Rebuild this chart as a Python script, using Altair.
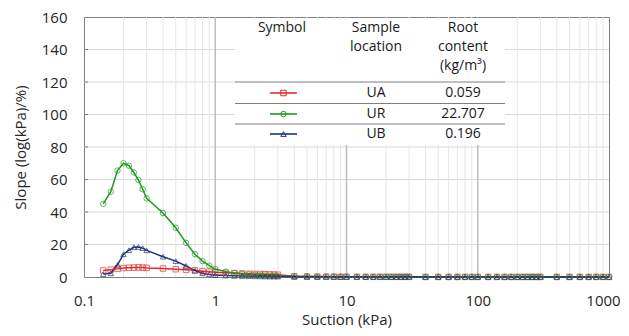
import altair as alt
import pandas as pd

# ---------------- data ----------------
suction = [0.14, 0.16, 0.18, 0.2, 0.22, 0.24, 0.26, 0.28, 0.3,
           0.4, 0.5, 0.6, 0.7, 0.8, 0.9, 1,
           1.2, 1.4, 1.6, 1.8, 2, 2.2, 2.4, 2.6, 2.8, 3,
           4, 5, 6, 7, 8, 9, 10,
           12, 14, 16, 18, 20, 22, 24, 26, 28, 30,
           40, 50, 60, 70, 80, 90, 100,
           120, 140, 160, 180, 200, 220, 240, 260, 280, 300,
           400, 500, 600, 700, 800, 900, 1000]

ua = [4.0, 4.5, 5.0, 5.5, 5.7, 5.8, 5.9, 5.8, 5.6,
      5.2, 4.8, 4.5, 4.1, 3.6, 3.2, 2.9,
      2.6, 2.4, 2.2, 2.0, 1.9, 1.8, 1.7, 1.6, 1.5, 1.4,
      0.4, 0.3, 0.25, 0.2, 0.2, 0.15, 0.15,
      0.1, 0.1, 0.1, 0.1, 0.1, 0.1, 0.1, 0.1, 0.1, 0.1,
      0.05, 0.05, 0.05, 0.05, 0.05, 0.05, 0.05,
      0.05, 0.05, 0.05, 0.05, 0.05, 0.05, 0.05, 0.05, 0.05, 0.05,
      0.05, 0.05, 0.05, 0.05, 0.05, 0.05, 0.05]

ur = [45.0, 52.5, 65.5, 70.0, 68.5, 64.3, 59.7, 54.0, 48.4,
      39.4, 30.3, 21.0, 14.0, 9.8, 7.0, 4.9,
      3.3, 2.4, 1.9, 1.5, 1.3, 1.1, 0.9, 0.8, 0.7, 0.6,
      0.4, 0.3, 0.25, 0.2, 0.2, 0.15, 0.15,
      0.1, 0.1, 0.1, 0.1, 0.1, 0.1, 0.1, 0.1, 0.1, 0.1,
      0.05, 0.05, 0.05, 0.05, 0.05, 0.05, 0.05,
      0.05, 0.05, 0.05, 0.05, 0.05, 0.05, 0.05, 0.05, 0.05, 0.05,
      0.05, 0.05, 0.05, 0.05, 0.05, 0.05, 0.05]

ub = [1.8, 2.3, 7.5, 14.0, 16.5, 18.3, 18.5, 17.8, 16.4,
      12.5, 9.8, 6.8, 3.9, 2.3, 1.6, 1.2,
      0.9, 0.7, 0.6, 0.5, 0.45, 0.4, 0.35, 0.3, 0.3, 0.3,
      0.2, 0.2, 0.15, 0.15, 0.1, 0.1, 0.1,
      0.1, 0.1, 0.1, 0.1, 0.1, 0.1, 0.1, 0.1, 0.1, 0.1,
      0.05, 0.05, 0.05, 0.05, 0.05, 0.05, 0.05,
      0.05, 0.05, 0.05, 0.05, 0.05, 0.05, 0.05, 0.05, 0.05, 0.05,
      0.05, 0.05, 0.05, 0.05, 0.05, 0.05, 0.05]

locations = ["UA", "UR", "UB"]
root_content = ["0.059", "22.707", "0.196"]
colors = ["#e32b2b", "#1c9a1c", "#1c3479"]
shapes = ["square", "circle", "triangle-up"]

y_ticks = [0, 20, 40, 60, 80, 100, 120, 140, 160]
y_grid = [20, 40, 60, 80, 100, 120, 140]
x_labels = [0.1, 1, 10, 100, 1000]
x_major = [1, 10, 100]
x_minor = [0.2, 0.3, 0.4, 0.5, 0.6, 0.7, 0.8, 0.9,
           2, 3, 4, 5, 6, 7, 8, 9,
           20, 30, 40, 50, 60, 70, 80, 90,
           200, 300, 400, 500, 600, 700, 800, 900]

# ---------------- build ----------------
rows = []
for loc, vals in zip(locations, [ua, ur, ub]):
    for s, v in zip(suction, vals):
        rows.append({"suction": s, "slope": v, "loc": loc})
df = pd.DataFrame(rows)

FONT = "Open Sans"
W, H = 525, 260
xscale = alt.Scale(type="log", domain=[0.1, 1000], nice=False)
yscale = alt.Scale(domain=[0, 160], nice=False)
cscale = alt.Scale(domain=locations, range=colors)
sscale = alt.Scale(domain=locations, range=shapes)

xaxis = alt.Axis(values=x_labels, format="~g", grid=False, ticks=False,
                 domain=False, labelPadding=16, labelFlush=False,
                 labelOffset={"condition": {"test": "datum.value >= 1000", "value": -6},
                              "value": 0},
                 title="Suction (kPa)", titlePadding=4)
yaxis = alt.Axis(values=y_ticks, grid=False, ticks=False, domain=False,
                 labelPadding=17, title="Slope (log(kPa)/%)", titlePadding=13)

one = pd.DataFrame({"a": [0]})

hgrid = alt.Chart(pd.DataFrame({"v": y_grid})).mark_rule(
    color="#d9d9d9", strokeWidth=1
).encode(y=alt.Y("v:Q", scale=yscale, axis=yaxis))

vminor = alt.Chart(pd.DataFrame({"v": x_minor})).mark_rule(
    color="#e6e6e6", strokeWidth=1
).encode(x=alt.X("v:Q", scale=xscale, axis=xaxis))

vmajor = alt.Chart(pd.DataFrame({"v": x_major})).mark_rule(
    color="#bdbdbd", strokeWidth=1.5
).encode(x=alt.X("v:Q", scale=xscale, axis=xaxis))

lines = alt.Chart(df).mark_line(strokeWidth=1.5).encode(
    x=alt.X("suction:Q", scale=xscale, axis=xaxis),
    y=alt.Y("slope:Q", scale=yscale, axis=yaxis),
    color=alt.Color("loc:N", scale=cscale, legend=None),
    order=alt.Order("suction:Q"),
)

points = alt.Chart(df).mark_point(filled=False, size=30, strokeWidth=1).encode(
    x=alt.X("suction:Q", scale=xscale, axis=xaxis),
    y=alt.Y("slope:Q", scale=yscale, axis=yaxis),
    color=alt.Color("loc:N", scale=cscale, legend=None),
    shape=alt.Shape("loc:N", scale=sscale, legend=None),
)

yticks_in = alt.Chart(pd.DataFrame({"v": y_grid})).mark_rule(
    color="#7f7f7f", strokeWidth=1
).encode(y=alt.Y("v:Q", scale=yscale, axis=yaxis), x=alt.value(0), x2=alt.value(4))

# legend table (annotation)
TX0, TX1 = 151, 421
table_bg = alt.Chart(one).mark_rect(fill="white").encode(
    x=alt.value(TX0), x2=alt.value(TX1), y=alt.value(1), y2=alt.value(128))

table_layers = [table_bg]
for yy in [65, 86.5, 107]:
    table_layers.append(alt.Chart(one).mark_rule(color="#7f7f7f", strokeWidth=1).encode(
        x=alt.value(TX0), x2=alt.value(TX1), y=alt.value(yy)))

def txt(s, x, y):
    return alt.Chart(one).mark_text(
        font=FONT, fontSize=14, color="#1a1a1a", align="center", baseline="middle"
    ).encode(x=alt.value(x), y=alt.value(y), text=alt.value(s))

text_layers = [
    txt("Symbol", 198, 11),
    txt("Sample", 292, 11), txt("location", 292, 30),
    txt("Root", 379, 11), txt("content", 379, 30), txt("(kg/m³)", 379, 49),
]
row_y = [76, 97, 117]
for i, loc in enumerate(locations):
    text_layers.append(txt(loc, 292, row_y[i]))
    text_layers.append(txt(root_content[i], 379, row_y[i]))
    text_layers.append(alt.Chart(one).mark_rule(color=colors[i], strokeWidth=1.6).encode(
        x=alt.value(186), x2=alt.value(213), y=alt.value(row_y[i])))
    text_layers.append(alt.Chart(one).mark_point(
        filled=False, size=30, strokeWidth=1, color=colors[i], shape=shapes[i], opacity=1
    ).encode(x=alt.value(199.5), y=alt.value(row_y[i])))

chart = alt.layer(
    hgrid, vminor, vmajor, *table_layers, lines, points, yticks_in, *text_layers
).properties(
    width=W, height=H,
    padding={"left": 76, "top": 9, "right": 12, "bottom": 54},
    autosize=alt.AutoSizeParams(type="none"),
).configure_view(
    stroke="#7f7f7f", strokeWidth=1
).configure_axis(
    labelFont=FONT, labelFontSize=15, labelColor="#262626",
    titleFont=FONT, titleFontSize=15, titleColor="#262626", titleFontWeight="normal",
)

chart.save("out.html", embed_options={"renderer": "svg", "actions": False})
